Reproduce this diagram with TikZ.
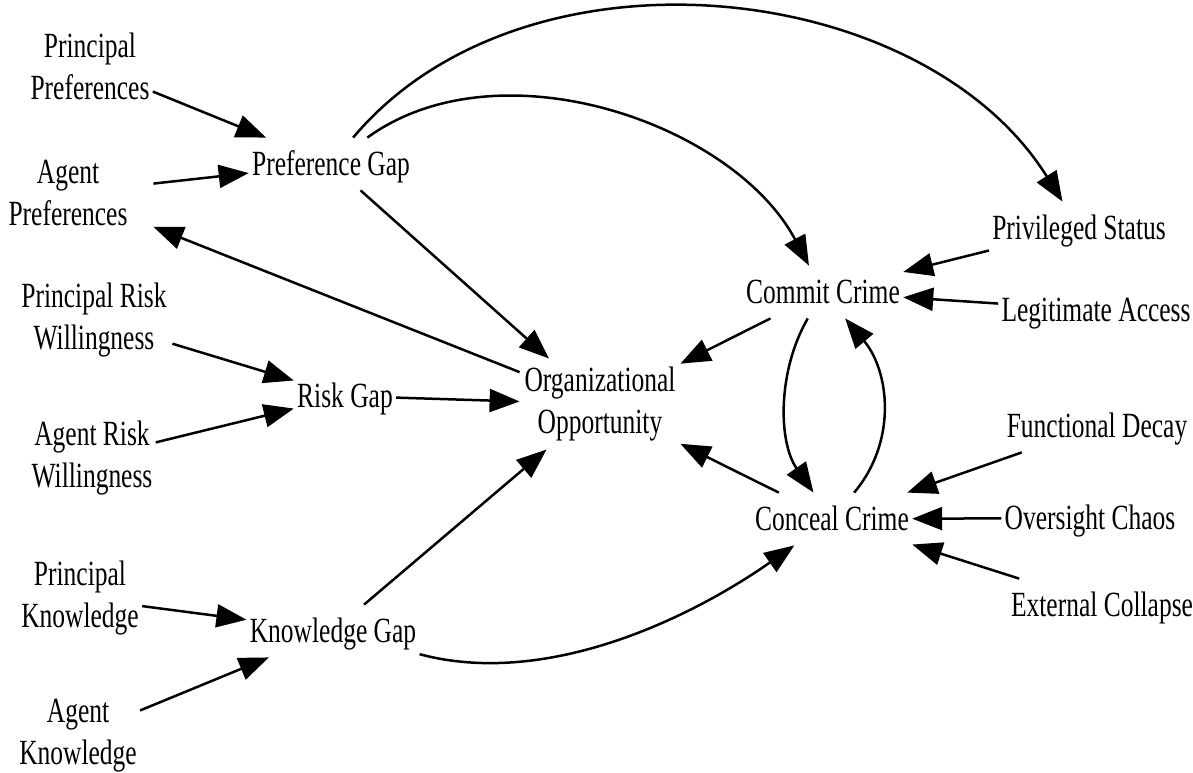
\documentclass[tikz,border=0pt]{standalone}
\usepackage{fontspec}
\setmainfont{Liberation Serif}
\usetikzlibrary{arrows.meta}

\newcommand{\nm}[1]{\scalebox{0.72}[1]{#1}}

\tikzset{
  var/.style={inner xsep=1.5pt, inner ysep=4pt, align=center, font=\fontsize{17.7}{21}\selectfont},
  oneline/.style={var, text height=11.7pt, text depth=0pt, minimum height=26pt},
  link/.style={line width=1.25pt, -{Triangle[length=15pt,width=11.5pt]}}
}

\begin{document}
\begin{tikzpicture}[x=0.5pt,y=0.5pt]
        \useasboundingbox (0,0) rectangle (1193,-772);

        \node[var] (pp) at (90,-66) {\nm{Principal}\\\nm{Preferences}};
        \node[var,minimum width=85pt] (ap) at (68,-193) {\nm{Agent}\\\nm{Preferences}};
        \node[var,minimum width=78pt] (prw) at (94,-320) {\nm{Principal Risk}\\\nm{Willingness}};
        \node[var] (arw) at (92,-458) {\nm{Agent Risk}\\\nm{Willingness}};
        \node[var] (pk) at (80,-598) {\nm{Principal}\\\nm{Knowledge}};
        \node[var] (ak) at (78,-736) {\nm{Agent}\\\nm{Knowledge}};

        \node[oneline] (pg) at (331,-164) {\nm{Preference Gap}};
        \node[oneline] (rg) at (345,-396) {\nm{Risk Gap}};
        \node[oneline] (kg) at (333,-631) {\nm{Knowledge Gap}};

        \node[var,minimum width=80pt,minimum height=44.5pt] (oo) at (600,-404) {\nm{Organizational}\\\nm{Opportunity}};

        \node[oneline] (cc) at (823,-292) {\nm{Commit Crime}};
        \node[oneline] (cn) at (832,-519) {\nm{Conceal Crime}};

        \node[oneline] (ps) at (1079,-228) {\nm{Privileged Status}};
        \node[oneline] (la) at (1096,-310) {\nm{Legitimate Access}};
        \node[oneline] (fd) at (1097,-426) {\nm{Functional Decay}};
        \node[oneline] (oc) at (1090,-518) {\nm{Oversight Chaos}};
        \node[oneline] (ec) at (1102,-605) {\nm{External Collapse}};

        \draw[link] (pp) -- (pg);
        \draw[link] (ap) -- (pg);
        \draw[link] (oo) -- (ap);
        \draw[link] (pg) -- (oo);
        \draw[link] (pg) to[out=50,in=122,looseness=0.95] (ps);
        \draw[link] (pg) to[out=36,in=118,looseness=0.9] (cc);

        \draw[link] (prw) -- (rg);
        \draw[link] (arw) -- (rg);
        \draw[link] (rg) -- (oo);

        \draw[link] (pk) -- (kg);
        \draw[link] (ak) -- (kg);
        \draw[link] (kg) -- (oo);
        \draw[link] (kg) to[out=-15,in=215,looseness=0.85] (cn);

        \draw[link] (cc) -- (oo);
        \draw[link] (cn) -- (oo);
        \draw[link] (cc) to[out=240,in=125,looseness=0.9] (cn);
        \draw[link] (cn) to[out=50,in=-50] (cc);

        \draw[link] (ps) -- (cc);
        \draw[link] (la) -- (cc);
        \draw[link] (fd) -- (cn);
        \draw[link] (oc) -- (cn);
        \draw[link] (ec) -- (cn);
\end{tikzpicture}
\end{document}
